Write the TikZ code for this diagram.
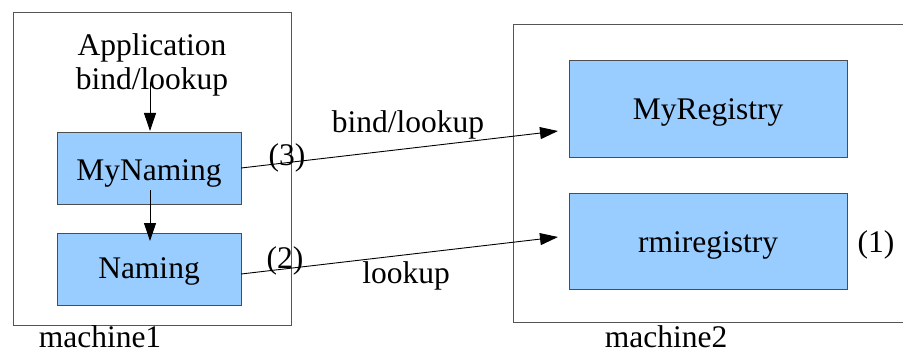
\documentclass[tikz,border=0pt]{standalone}
\usepackage{fontspec}
\setmainfont{Liberation Serif}
\usetikzlibrary{arrows.meta}
\definecolor{boxblue}{HTML}{99CCFF}
\definecolor{boxedge}{HTML}{4D4D4D}
\definecolor{machedge}{HTML}{555555}
\begin{document}
\begin{tikzpicture}[x=1pt,y=-1pt,
  txt/.style={anchor=base,inner sep=0pt,font=\rmfamily\fontsize{31.5}{36}\selectfont},
  machine/.style={draw=machedge,line width=1pt},
  comp/.style={draw=boxedge,fill=boxblue,line width=1pt},
  conn/.style={draw=black,line width=0.9pt,-{Triangle[length=18pt,width=12pt]}}]
\useasboundingbox (0,0) rectangle (903,353);
\begin{scope}
\clip (0,0) rectangle (903,353);
% machines
\draw[machine] (13,13) rectangle (291,325);
\draw[machine] (513,25) rectangle (915,322);
% components
\path[comp] (57,132) rectangle (241,204);
\path[comp] (57,233) rectangle (241,305);
\path[comp] (569,61) rectangle (847,157);
\path[comp] (569,193) rectangle (847,289);
\node (mynaming) [minimum width=184pt,minimum height=72pt,inner sep=0pt] at (149,168) {};
\node (naming) [minimum width=184pt,minimum height=72pt,inner sep=0pt] at (149,269) {};
\node (myreg) [minimum width=278pt,minimum height=96pt,inner sep=0pt] at (708,109) {};
\node (rmireg) [minimum width=278pt,minimum height=96pt,inner sep=0pt] at (708,241) {};
% texts
\node[txt] (app) at (152,56) {Application};
\node[txt] (appbl) at (152,89) {bind/lookup};
\node[txt] at (149,180) {MyNaming};
\node[txt] at (149,278) {Naming};
\node[txt] at (708,120) {MyRegistry};
\node[txt] at (708,252) {rmiregistry};
\node[txt] at (876,252) {(1)};
\node[txt] at (100,347) {machine1};
\node[txt] at (666,347) {machine2};
\node[txt] at (287,165) {(3)};
\node[txt] at (408,132) {bind/lookup};
\node[txt] at (285,268) {(2)};
\node[txt] at (406,283) {lookup};
% connectors
\coordinate (appstart) at (150,82);
\coordinate (mnstart) at (150,190);
\coordinate (mntip) at (150,131);
\coordinate (nmtip) at (150,241);
\coordinate (regtip) at (558,131);
\coordinate (rmitip) at (558,237);
\draw[conn] (appstart) -- (mntip);
\draw[conn] (mnstart) -- (nmtip);
\draw[conn] (mynaming.east) -- (regtip);
\draw[conn] ([yshift=-5pt]naming.east) -- (rmitip);
\end{scope}
\end{tikzpicture}
\end{document}
